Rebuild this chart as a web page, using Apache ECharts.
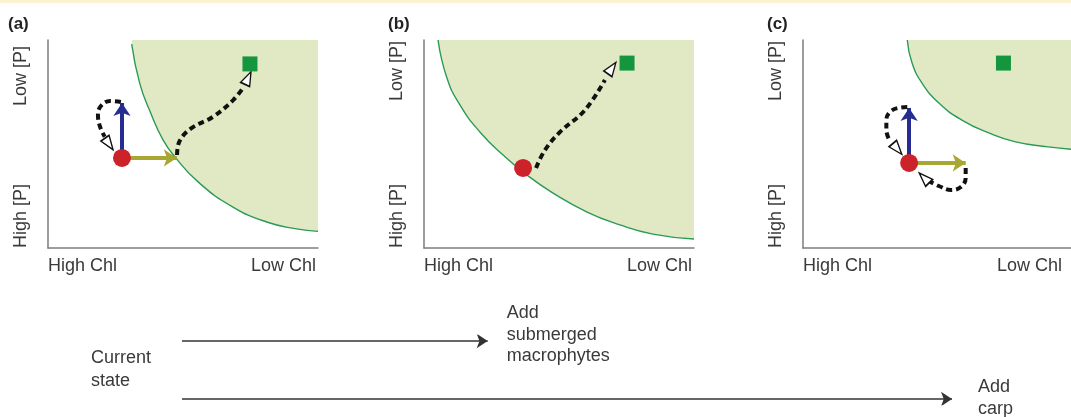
<!DOCTYPE html>
<html>
<head>
<meta charset="utf-8">
<script src="https://cdn.jsdelivr.net/npm/echarts/dist/echarts.min.js"></script>
<style>
  html, body { margin: 0; padding: 0; background: #fff; }
  #chart { width: 1071px; height: 417px; }
</style>
</head>
<body>
<div id="chart"></div>
<script>
// axis labels
const xLabels = ["High Chl", "Low Chl"];
const yLabels = ["High [P]", "Low [P]"];
const panelNames = ["(a)", "(b)", "(c)"];

// boundary of the clear-water basin (x: chl 0-100, y: P 0-100)
const boundaryA = [[31, 98], [34, 79], [38, 65], [42.6, 52], [47, 43.8], [56, 31.3], [68.5, 19.7], [81, 12.5], [92, 9.2], [100, 8]];
const boundaryB = [[5.2, 100], [8.5, 81.7], [13.3, 68.8], [20.7, 55.8], [29.3, 44.7], [38.1, 35.1], [47.8, 26.4], [60.4, 17.3], [72.6, 11.1], [84.8, 6.7], [100, 4.3]];
const boundaryC = [[38.9, 100], [40.7, 88.9], [44.4, 79.3], [50.7, 69.7], [59.3, 61.5], [69.3, 55.3], [79.3, 51], [91.5, 48.6], [100, 47.5]];

// current state (red) and target state (green)
const currentA = [27.4, 43.3];
const currentB = [36.7, 38.5];
const currentC = [39.6, 40.9];
const targetA = [74.8, 88.5];
const targetB = [75.2, 88.9];
const targetC = [74.8, 88.9];

// pushes: [P tip, Chl tip]
const pushA = [69.7, 47.7];
const pushC = [67.3, 60.7];

// trajectories (dashed)
const pathA1 = [[47.8, 44.7], [48.6, 51], [53, 57.5], [61, 63], [68.5, 71], [72.5, 77.5]];
const pathA2 = [[27, 70.2], [23, 70.7], [19.6, 68.3], [18.5, 63.9], [19.3, 58.2], [21, 53.5]];
const pathB = [[41.5, 38.5], [44.8, 47.1], [50.4, 55.8], [59.6, 66.3], [67, 80.8]];
const pathC1 = [[38.9, 67.8], [33.3, 66.3], [31.1, 61.5], [31.1, 56.7], [32.2, 51.9]];
const pathC2 = [[60.7, 38.5], [60.7, 33.7], [58.9, 29.3], [55.2, 27.9], [50.7, 29.8], [47, 32.2]];

// trajectory heads: [x, y, direction]
const headsA = [[74.1, 81.7, -25], [22.6, 50, -145]];
const headsB = [[69.6, 86.5, -35]];
const headsC = [[35.2, 47.6, -140], [45.2, 33.7, 45]];

// bottom timeline
const treatments = ["Add\nsubmerged\nmacrophytes", "Add\ncarp"];
const treatmentEnds = [39.7, 100];
const treatmentRows = [1, 0];
const startLabel = "Current state";

const chart = echarts.init(document.getElementById("chart"));

const FONT = '"Liberation Sans", Arial, sans-serif';
const grids = [
  { left: 48, top: 40, width: 270, height: 208, outerBoundsMode: "none" },
  { left: 424, top: 40, width: 270, height: 208, outerBoundsMode: "none" },
  { left: 803, top: 40, width: 268, height: 208, outerBoundsMode: "none" },
  // timeline: rows 1 and 0 sit at y = 341 and 399
  { left: 182, top: 335.2, width: 847, height: 69.6, outerBoundsMode: "none" }
];

const panels = [
  { boundary: boundaryA, current: currentA, target: targetA, push: pushA, paths: [pathA1, pathA2], heads: headsA, labelPad: 2 },
  { boundary: boundaryB, current: currentB, target: targetB, push: null, paths: [pathB], heads: headsB, labelPad: 2 },
  { boundary: boundaryC, current: currentC, target: targetC, push: pushC, paths: [pathC1, pathC2], heads: headsC, labelPad: 9 }
];

const xAxis = [];
const yAxis = [];
const series = [];
const graphic = [
  { type: "rect", shape: { x: 0, y: 0, width: 1071, height: 3 }, style: { fill: "#fbf2d2" } }
];

panels.forEach((p, i) => {
  xAxis.push({
    gridIndex: i, type: "value", min: 0, max: 100, interval: 100,
    axisLine: { show: true, lineStyle: { color: "#7d7d7d", width: 1.5 } },
    axisTick: { show: false }, splitLine: { show: false },
    axisLabel: {
      margin: 9, fontSize: 18, fontFamily: FONT, color: "#3a3a3a",
      alignMinLabel: "left", alignMaxLabel: "right",
      padding: [0, p.labelPad, 0, 0],
      formatter: (v) => (v === 0 ? xLabels[0] : xLabels[1])
    }
  });
  yAxis.push({
    gridIndex: i, type: "value", min: 0, max: 100,
    axisLine: { show: true, lineStyle: { color: "#7d7d7d", width: 1.5 } },
    axisTick: { show: false }, splitLine: { show: false }, axisLabel: { show: false }
  });

  // shaded basin + boundary
  series.push({
    type: "line", xAxisIndex: i, yAxisIndex: i, data: p.boundary,
    smooth: 0.5, showSymbol: false, silent: true,
    lineStyle: { color: "#2a9a58", width: 1.4 },
    areaStyle: { origin: "end", color: "#e1e9c4", opacity: 1 },
    z: 1
  });

  // trajectories
  p.paths.forEach((path) => {
    series.push({
      type: "line", xAxisIndex: i, yAxisIndex: i, data: path,
      smooth: 0.4, showSymbol: false, silent: true,
      lineStyle: { color: "#111111", width: 4, type: [6, 4], cap: "butt" },
      z: 3
    });
  });

  // pushes on P and Chl
  if (p.push) {
    series.push({
      type: "lines", coordinateSystem: "cartesian2d", xAxisIndex: i, yAxisIndex: i,
      symbol: ["none", "arrow"], symbolSize: 13, silent: true,
      lineStyle: { width: 4, opacity: 1, curveness: 0 },
      data: [
        { coords: [p.current, [p.current[0], p.push[0]]], lineStyle: { color: "#272c93" } },
        { coords: [p.current, [p.push[1], p.current[1]]], lineStyle: { color: "#a9a733" } }
      ],
      z: 4
    });
  }

  // heads of trajectories
  series.push({
    type: "scatter", xAxisIndex: i, yAxisIndex: i, symbol: "triangle", symbolSize: [10, 14],
    itemStyle: { color: "#ffffff", borderColor: "#111111", borderWidth: 1.5, opacity: 1 },
    data: p.heads.map((h) => ({ value: [h[0], h[1]], symbolRotate: h[2] })),
    silent: true, z: 5
  });

  // current state
  series.push({
    type: "scatter", xAxisIndex: i, yAxisIndex: i, symbol: "circle", symbolSize: 18,
    itemStyle: { color: "#cc2229", opacity: 1 }, data: [p.current], silent: true, z: 6
  });
  // target state
  series.push({
    type: "scatter", xAxisIndex: i, yAxisIndex: i, symbol: "rect", symbolSize: 15,
    itemStyle: { color: "#14963f", opacity: 1 }, data: [p.target], silent: true, z: 6
  });

  const g = grids[i];
  graphic.push(
    { type: "text", x: g.left - (i === 0 ? 40 : 36), y: 24,
      style: { text: panelNames[i], font: "bold 17px " + FONT, fill: "#222", align: "left", verticalAlign: "middle" } },
    { type: "text", x: g.left - 27, y: g.top + (i === 0 ? 6 : 1), rotation: Math.PI / 2,
      style: { text: yLabels[1], font: "18px " + FONT, fill: "#3a3a3a", align: "right", verticalAlign: "middle" } },
    { type: "text", x: g.left - 27, y: g.top + g.height, rotation: Math.PI / 2,
      style: { text: yLabels[0], font: "18px " + FONT, fill: "#3a3a3a", align: "left", verticalAlign: "middle" } }
  );
});

// timeline grid
xAxis.push({ gridIndex: 3, type: "value", min: 0, max: 110, show: false });
yAxis.push({ gridIndex: 3, type: "value", min: -0.1, max: 1.1, show: false });
series.push({
  type: "lines", coordinateSystem: "cartesian2d", xAxisIndex: 3, yAxisIndex: 3,
  symbol: ["none", "arrow"], symbolSize: [9, 11], silent: true,
  lineStyle: { color: "#333", width: 1.5, opacity: 1 },
  data: treatmentEnds.map((e, k) => ({ coords: [[0, treatmentRows[k]], [e, treatmentRows[k]]] }))
});
series.push({
  type: "scatter", xAxisIndex: 3, yAxisIndex: 3, symbolSize: 0, silent: true, clip: false,
  itemStyle: { opacity: 1 },
  data: treatmentEnds.map((e, k) => ({
    value: [e, treatmentRows[k]],
    label: { offset: k === 0 ? [0, -6] : [0, -1], distance: k === 0 ? 19 : 26 }
  })),
  label: {
    show: true, position: "right", fontSize: 18, lineHeight: 21.5, fontFamily: FONT, color: "#3a3a3a", opacity: 1,
    formatter: (d) => treatments[d.dataIndex]
  }
});
graphic.push({
  type: "text", x: grids[3].left - 91, y: 370,
  style: { text: startLabel.replace(" ", "\n"), font: "18px " + FONT, lineHeight: 23, fill: "#3a3a3a", align: "left", verticalAlign: "middle" }
});

chart.setOption({
  animation: false,
  backgroundColor: "#ffffff",
  grid: grids,
  xAxis: xAxis,
  yAxis: yAxis,
  series: series,
  graphic: graphic
});
</script>
</body>
</html>
